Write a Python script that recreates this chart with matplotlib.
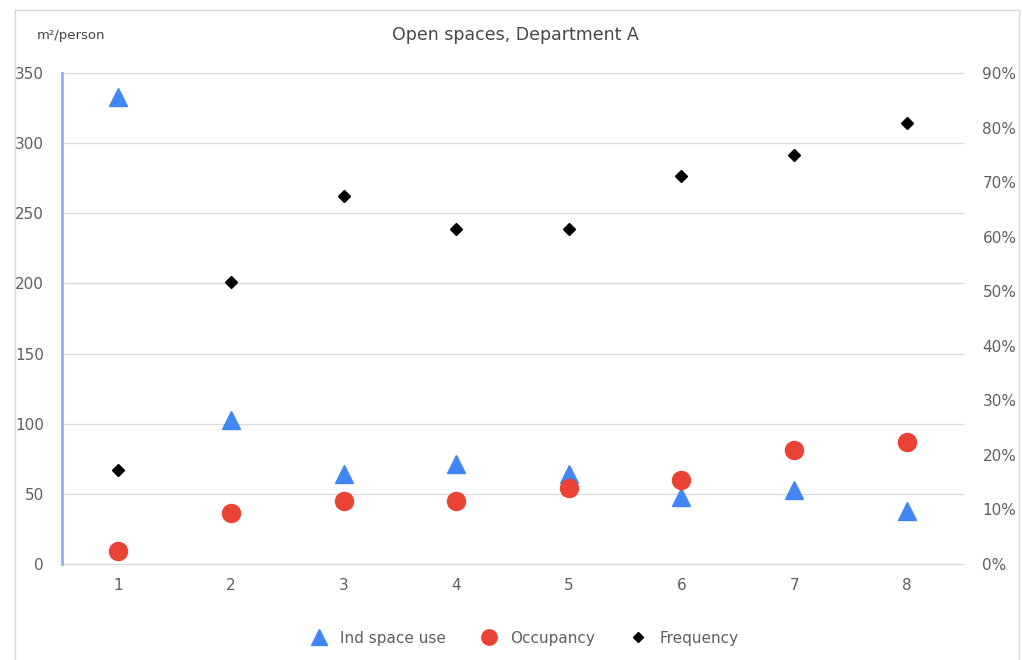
import matplotlib
matplotlib.use("Agg")
import matplotlib.pyplot as plt
from matplotlib.lines import Line2D
from matplotlib.ticker import FuncFormatter

x = [1, 2, 3, 4, 5, 6, 7, 8]
ind_space_use = [333, 103, 64, 71, 64, 48, 53, 38]
occupancy = [9, 36, 45, 45, 54, 60, 81, 87]
frequency = [17.2, 51.7, 67.4, 61.4, 61.4, 71.1, 75.0, 80.8]
left_ticks = [0, 50, 100, 150, 200, 250, 300, 350]
right_ticks = [0, 10, 20, 30, 40, 50, 60, 70, 80, 90]

W, H = 1022, 660
fig = plt.figure(figsize=(W / 100, H / 100), dpi=100)
fig.patch.set_facecolor("white")

left, right, top, bottom = 62, 963, 73, 564
ax = fig.add_axes([left / W, 1 - bottom / H, (right - left) / W, (bottom - top) / H])
ax2 = ax.twinx()

tick_color = "#5f5f5f"
grid_color = "#dcdcdc"

ax.set_xlim(0.5, 8.5)
ax.set_ylim(0, 350)
ax2.set_ylim(0, 90)
ax.set_yticks(left_ticks)
ax2.set_yticks(right_ticks)
ax.set_xticks(x)
ax2.yaxis.set_major_formatter(FuncFormatter(lambda v, p: f"{int(v)}%"))

ax.grid(axis="y", color=grid_color, linewidth=1)
for gl in ax.get_ygridlines():
    gl.set_clip_on(False)
ax.set_axisbelow(True)
for a in (ax, ax2):
    for s in a.spines.values():
        s.set_visible(False)
    a.tick_params(length=0, labelsize=11, labelcolor=tick_color)
ax.spines["left"].set_visible(True)
ax.spines["left"].set_color("#8ab4f8")
ax.spines["left"].set_linewidth(2)
ax.tick_params(axis="y", pad=13)
ax.tick_params(axis="x", pad=10)
ax2.tick_params(axis="y", pad=14)

h1, = ax.plot(x, ind_space_use, linestyle="none", marker="^", markersize=13,
              color="#4285f4", label="Ind space use", zorder=3)
h2, = ax.plot(x, occupancy, linestyle="none", marker="o", markersize=13,
              color="#ea4335", label="Occupancy", zorder=4)
h3, = ax2.plot(x, frequency, linestyle="none", marker="D", markersize=6.5,
               color="black", label="Frequency", zorder=5)

fig.text(515 / W, 1 - 35 / H, "Open spaces, Department A", ha="center", va="center",
         fontsize=12.5, color="#484848")
fig.text(37 / W, 1 - 35 / H, "m²/person", ha="left", va="center",
         fontsize=9.5, color="#444444")

leg = fig.legend(handles=[h1, h2, h3], loc="center", bbox_to_anchor=(521 / W, 1 - 638 / H),
                 ncol=3, frameon=False, fontsize=11, handletextpad=0.4,
                 columnspacing=1.8, markerscale=0.85)
for t in leg.get_texts():
    t.set_color(tick_color)

border = dict(transform=fig.transFigure, color="#d9d9d9", linewidth=1)
fig.lines.append(Line2D([15 / W, 15 / W], [0, 1 - 10 / H], **border))
fig.lines.append(Line2D([15 / W, 1019 / W], [1 - 10 / H, 1 - 10 / H], **border))
fig.lines.append(Line2D([1019 / W, 1019 / W], [0, 1 - 10 / H], **border))

fig.savefig("out.png", dpi=100, facecolor="white")
